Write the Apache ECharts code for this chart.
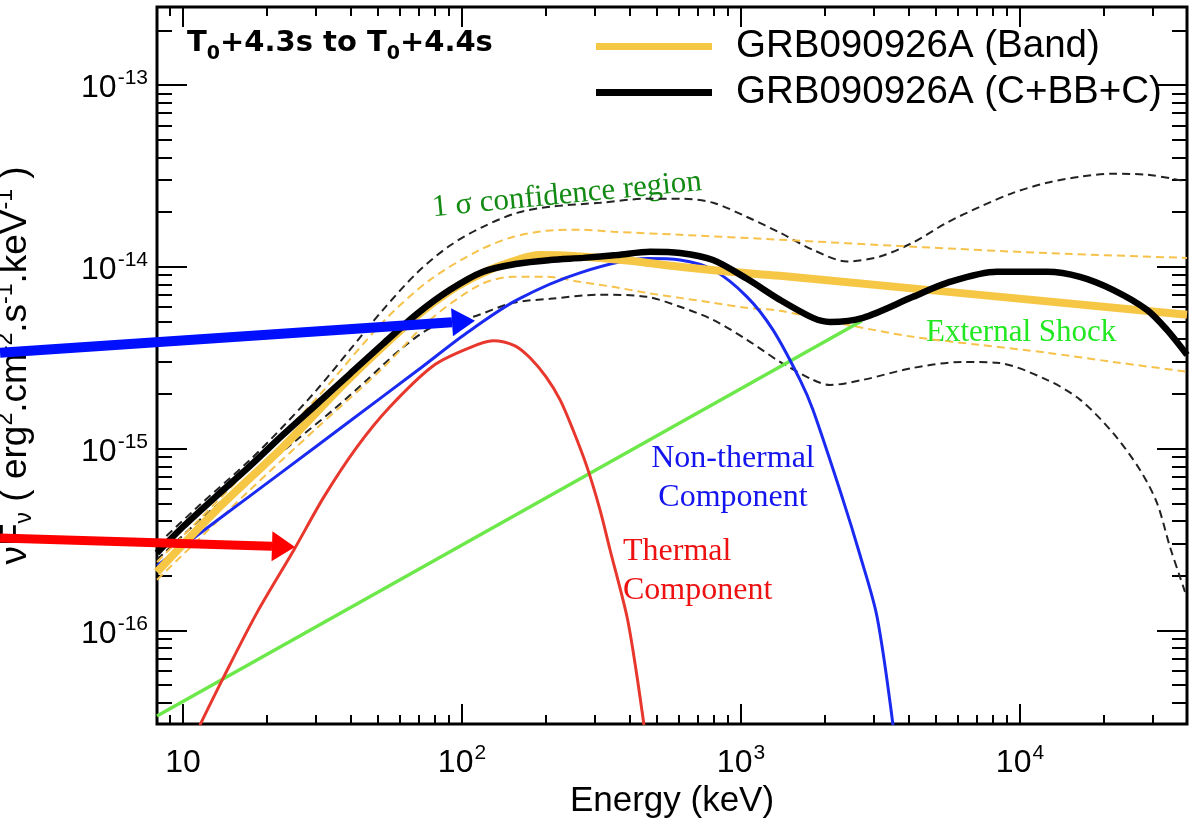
<!DOCTYPE html>
<html>
<head>
<meta charset="utf-8">
<title>GRB090926A spectrum</title>
<script src="https://cdn.jsdelivr.net/npm/echarts@6.0.0/dist/echarts.min.js"></script>
<style>
  html, body { margin: 0; padding: 0; background: #fff; }
  #chart { width: 1202px; height: 822px; }
</style>
</head>
<body>
<div id="chart"></div>
<script>
// [energy keV, nuFnu]
const bandFit = [[8.07, 2.10e-16], [13.2, 4.61e-16], [22.8, 1.02e-15], [39.7, 2.45e-15], [69.0, 5.38e-15], [90.6, 7.38e-15], [118.9, 9.27e-15], [157.5, 1.09e-14], [190.4, 1.16e-14], [264.8, 1.14e-14], [400, 1.08e-14], [604.5, 1.00e-14], [913, 9.39e-15], [1380, 8.92e-15], [39680, 5.45e-15]];
const bandHigh = [[8.07, 2.38e-16], [17.4, 7.84e-16], [30.2, 1.90e-15], [52.1, 4.98e-15], [76.8, 8.48e-15], [116, 1.24e-14], [152.3, 1.46e-14], [201.7, 1.58e-14], [264.8, 1.60e-14], [347.7, 1.56e-14], [604.5, 1.50e-14], [1380, 1.41e-14], [4135, 1.29e-14], [12500, 1.19e-14], [39680, 1.12e-14]];
const bandLow = [[8.07, 1.90e-16], [17.4, 5.94e-16], [30.2, 1.30e-15], [52.1, 2.78e-15], [76.8, 5.11e-15], [116, 7.96e-15], [152.3, 8.81e-15], [201.7, 8.81e-15], [264.8, 8.27e-15], [347.7, 7.76e-15], [460, 7.19e-15], [605, 6.75e-15], [794, 6.34e-15], [1051, 5.95e-15], [1380, 5.73e-15], [2399, 4.80e-15], [4135, 4.12e-15], [7189, 3.72e-15], [12500, 3.37e-15], [21540, 3.00e-15], [39680, 2.65e-15]];

const cbbcFit = [[8.07, 2.67e-16], [10, 3.72e-16], [13.2, 5.50e-16], [17.4, 8.04e-16], [22.8, 1.19e-15], [30.2, 1.76e-15], [39.7, 2.58e-15], [52.1, 3.77e-15], [69.0, 5.51e-15], [90.6, 7.47e-15], [119, 9.39e-15], [158, 1.04e-14], [207, 1.09e-14], [272, 1.12e-14], [359, 1.16e-14], [472, 1.21e-14], [605, 1.19e-14], [794, 1.09e-14], [1051, 8.59e-15], [1380, 6.58e-15], [1812, 5.24e-15], [2084, 4.98e-15], [2737, 5.24e-15], [4135, 6.84e-15], [5474, 8.17e-15], [8273, 9.39e-15], [12500, 9.39e-15], [16410, 8.81e-15], [21540, 7.47e-15], [28520, 5.80e-15], [33640, 4.50e-15], [39680, 3.28e-15]];
const cbbcHigh = [[8.07, 2.96e-16], [11.5, 4.91e-16], [17.4, 8.68e-16], [22.8, 1.32e-15], [30.2, 2.11e-15], [39.7, 3.50e-15], [52.1, 5.80e-15], [69.0, 9.27e-15], [90.6, 1.31e-14], [118.9, 1.66e-14], [157.5, 1.98e-14], [206.8, 2.14e-14], [312.4, 2.25e-14], [460, 2.37e-14], [605, 2.37e-14], [794, 2.25e-14], [1051, 1.88e-14], [1380, 1.54e-14], [1812, 1.24e-14], [2399, 1.07e-14], [3149, 1.14e-14], [4135, 1.36e-14], [5474, 1.75e-14], [7189, 2.14e-14], [9438, 2.55e-14], [12500, 2.90e-14], [16410, 3.13e-14], [21540, 3.25e-14], [28520, 3.21e-14], [35350, 3.05e-14], [39680, 2.94e-14]];
const cbbcLow = [[8.07, 2.45e-16], [11.5, 4.06e-16], [17.4, 6.91e-16], [25.6, 1.12e-15], [34.5, 1.63e-15], [45.7, 2.39e-15], [60.0, 3.50e-15], [78.7, 4.68e-15], [109.5, 5.31e-15], [152.3, 6.34e-15], [206.8, 6.67e-15], [312.4, 7.02e-15], [460, 6.84e-15], [605, 6.03e-15], [794, 5.11e-15], [1051, 3.97e-15], [1380, 3.00e-15], [1812, 2.39e-15], [2084, 2.24e-15], [2737, 2.39e-15], [4135, 2.78e-15], [6247, 3.00e-15], [8273, 2.97e-15], [12500, 2.39e-15], [16410, 1.86e-15], [21540, 1.22e-15], [26930, 7.64e-16], [30970, 5.03e-16], [34480, 2.88e-16], [37450, 1.97e-16], [39030, 1.63e-16]];

const nonThermal = [[8.07, 2.27e-16], [13.2, 4.01e-16], [22.8, 7.50e-16], [39.7, 1.42e-15], [69.0, 2.68e-15], [104.2, 4.34e-15], [157.5, 6.58e-15], [264.8, 9.27e-15], [460, 1.11e-14], [604.5, 1.09e-14], [793.5, 9.63e-15], [1051, 6.84e-15], [1302, 4.50e-15], [1628, 2.39e-15], [1812, 1.63e-15], [2321, 5.23e-16], [2670, 2.60e-16], [3073, 1.19e-16], [3506, 3.02e-17]];
const thermal = [[11.5, 3.02e-17], [14.0, 5.56e-17], [18.4, 1.25e-16], [25.0, 2.78e-16], [32.0, 5.43e-16], [42.0, 1.02e-15], [55.2, 1.70e-15], [78.7, 2.85e-15], [104.2, 3.54e-15], [129.2, 3.92e-15], [154.9, 3.68e-15], [175.3, 3.16e-15], [200.1, 2.48e-15], [224.5, 1.86e-15], [249.9, 1.27e-15], [280.5, 7.94e-16], [312.4, 4.61e-16], [339.3, 2.78e-16], [390.3, 1.19e-16], [420.5, 6.07e-17], [449.1, 3.02e-17]];
const externalShock = [[8.07, 3.39e-17], [2715, 5.05e-15]];

// annotation arrows: [E tail, F tail, E tip, F tip]
const blueArrow = [[2.21, 3.37e-15, 111.3, 5.05e-15]];
const redArrow = [[2.21, 3.23e-16, 25.2, 2.88e-16]];

const xRange = [8.07, 39680];
const yRange = [3.06e-17, 2.685e-13];
const xMajorTicks = [10, 100, 1000, 10000];
const xMinorTicks = [9, 20, 30, 40, 50, 60, 70, 80, 90, 200, 300, 400, 500, 600, 700, 800, 900,
  2000, 3000, 4000, 5000, 6000, 7000, 8000, 9000, 20000, 30000];
const yMajorTicks = [1e-16, 1e-15, 1e-14, 1e-13];
const yMinorTicks = [4e-17, 5e-17, 6e-17, 7e-17, 8e-17, 9e-17,
  2e-16, 3e-16, 4e-16, 5e-16, 6e-16, 7e-16, 8e-16, 9e-16,
  2e-15, 3e-15, 4e-15, 5e-15, 6e-15, 7e-15, 8e-15, 9e-15,
  2e-14, 3e-14, 4e-14, 5e-14, 6e-14, 7e-14, 8e-14, 9e-14, 2e-13];

const SANS = '"Liberation Sans", Arial, Helvetica, sans-serif';
const SERIF = '"Liberation Serif", "Times New Roman", serif';

const chart = echarts.init(document.getElementById('chart'), null, { renderer: 'canvas' });

// "10", "10^2", "10^-13" ...
function powLabel(v) {
  const e = Math.round(Math.log10(v));
  if (e === 1) return '{b|10}';
  return '{b|10}{sup|' + (e < 0 ? '-' + (-e) : e) + '}';
}

const xTickRich = {
  b: { fontSize: 32, fontFamily: SANS, color: '#000', lineHeight: 41 },
  sup: { fontSize: 21, fontFamily: SANS, color: '#000', padding: [0, 0, 20, 1] }
};
const yTickRich = {
  b: { fontSize: 32, fontFamily: SANS, color: '#000', padding: [7, 0, 0, 0] },
  sup: { fontSize: 21, fontFamily: SANS, color: '#000', padding: [0, 0, 13, 1] }
};

function logAxis(range, position, ticks, len, label) {
  return {
    type: 'log',
    logBase: 10,
    min: range[0],
    max: range[1],
    position: position,
    axisLine: { show: false },
    axisTick: { show: true, inside: true, length: len, customValues: ticks, lineStyle: { color: '#000', width: 2 } },
    axisLabel: label || { show: false },
    splitLine: { show: false },
    minorTick: { show: false },
    minorSplitLine: { show: false },
    nameMoveOverlap: false
  };
}

function curve(name, data, color, width, dashed, z) {
  return {
    name: name,
    type: 'line',
    data: data,
    xAxisIndex: 0,
    yAxisIndex: 0,
    showSymbol: false,
    symbol: 'none',
    smooth: 0.3,
    color: color,
    itemStyle: { color: color },
    lineStyle: { color: color, width: width, type: dashed ? [8, 5] : 'solid' },
    emphasis: { disabled: true },
    silent: true,
    clip: true,
    z: z
  };
}

function arrowShape(shaft, headLen, headHalf) {
  return function (params, api) {
    const a = api.coord([api.value(0), api.value(1)]);
    const b = api.coord([api.value(2), api.value(3)]);
    const dx = b[0] - a[0], dy = b[1] - a[1];
    const len = Math.sqrt(dx * dx + dy * dy);
    const ux = dx / len, uy = dy / len;
    const nx = -uy, ny = ux;
    const bx = b[0] - ux * headLen, by = b[1] - uy * headLen;
    const h = shaft / 2;
    const color = api.visual('color');
    return {
      type: 'group',
      children: [
        {
          type: 'polygon',
          shape: { points: [[a[0] + nx * h, a[1] + ny * h], [bx + nx * h, by + ny * h], [bx - nx * h, by - ny * h], [a[0] - nx * h, a[1] - ny * h]] },
          style: { fill: color }
        },
        {
          type: 'polygon',
          shape: { points: [[bx + nx * headHalf, by + ny * headHalf], [b[0], b[1]], [bx - nx * headHalf, by - ny * headHalf]] },
          style: { fill: color }
        }
      ]
    };
  };
}

const xMain = logAxis(xRange, 'bottom', xMajorTicks, 20, {
  customValues: xMajorTicks,
  formatter: powLabel,
  margin: 19,
  rich: xTickRich
});
xMain.name = 'Energy (keV)';
xMain.nameLocation = 'middle';
xMain.nameGap = 60;
xMain.nameTextStyle = { fontSize: 35, fontFamily: SANS, color: '#000' };

const yMain = logAxis(yRange, 'left', yMajorTicks, 30, {
  customValues: yMajorTicks,
  formatter: powLabel,
  margin: 9,
  rich: yTickRich
});
yMain.name = '{n|\u03bdF}{sub|\u03bd}{n| ( erg}{sup|2}{n|.cm}{sup|-2}{n|.s}{sup|-1}{n|.keV}{sup|-1}{n| )}';
yMain.nameLocation = 'middle';
yMain.nameRotate = 90;
yMain.nameGap = 119;
yMain.nameTextStyle = {
  rich: {
    n: { fontSize: 37, fontFamily: SANS, color: '#000', lineHeight: 44 },
    sup: { fontSize: 23, fontFamily: SANS, color: '#000', padding: [0, 0, 21, 0] },
    sub: { fontSize: 23, fontFamily: SANS, color: '#000', padding: [17, 0, 0, 0] }
  }
};

const option = {
  animation: false,
  backgroundColor: '#fff',
  grid: {
    left: 157,
    right: 15,
    top: 7,
    bottom: 98,
    show: true,
    borderColor: '#000',
    borderWidth: 3,
    backgroundColor: 'transparent',
    containLabel: false,
    outerBoundsMode: 'none'
  },
  title: {
    text: '{n|T}{s|0}{n|+4.3s to T}{s|0}{n|+4.4s}',
    left: 187,
    top: 23,
    padding: 0,
    textStyle: {
      rich: {
        n: { fontSize: 29, fontWeight: 'bold', fontFamily: '"DejaVu Sans", sans-serif', color: '#000' },
        s: { fontSize: 19, fontWeight: 'bold', fontFamily: '"DejaVu Sans", sans-serif', color: '#000', padding: [22, 0, 0, 0] }
      }
    }
  },
  legend: {
    orient: 'vertical',
    left: 596,
    top: 27,
    padding: 0,
    itemWidth: 116,
    itemHeight: 7,
    itemGap: 7,
    selectedMode: false,
    icon: 'rect',
    data: ['GRB090926A (Band)', 'GRB090926A (C+BB+C)'],
    textStyle: { fontSize: 38.5, fontFamily: SANS, color: '#000', padding: [0, 0, 0, 19] }
  },
  xAxis: [
    xMain,
    logAxis(xRange, 'bottom', xMinorTicks, 9),
    logAxis(xRange, 'top', xMajorTicks, 20),
    logAxis(xRange, 'top', xMinorTicks, 9)
  ],
  yAxis: [
    yMain,
    logAxis(yRange, 'left', yMinorTicks, 15),
    logAxis(yRange, 'right', yMajorTicks, 30),
    logAxis(yRange, 'right', yMinorTicks, 15)
  ],
  graphic: [
    {
      type: 'text', x: 567, y: 195, rotation: 0.097, silent: true,
      style: { text: '1 \u03c3 confidence region', fontSize: 31, fontFamily: SERIF, fill: '#138a13', align: 'center', verticalAlign: 'middle' }
    },
    {
      type: 'text', x: 926, y: 333, silent: true,
      style: { text: 'External Shock', fontSize: 31, fontFamily: SERIF, fill: '#22e822', align: 'left', verticalAlign: 'middle' }
    },
    {
      type: 'text', x: 733, y: 478, silent: true,
      style: { text: 'Non-thermal\nComponent', fontSize: 32, lineHeight: 39, fontFamily: SERIF, fill: '#1414ee', align: 'center', verticalAlign: 'middle' }
    },
    {
      type: 'text', x: 623, y: 571, silent: true,
      style: { text: 'Thermal\nComponent', fontSize: 32, lineHeight: 39, fontFamily: SERIF, fill: '#ee1111', align: 'left', verticalAlign: 'middle' }
    }
  ],
  series: [
    curve('C+BB+C upper', cbbcHigh, '#222', 2, true, 2),
    curve('C+BB+C lower', cbbcLow, '#222', 2, true, 2),
    curve('Band upper', bandHigh, '#f6c24a', 2, true, 2),
    curve('Band lower', bandLow, '#f6c24a', 2, true, 2),
    curve('External Shock', externalShock, '#6de84a', 3.5, false, 3),
    curve('Thermal', thermal, '#e8372c', 3, false, 3),
    curve('Non-thermal', nonThermal, '#1a2af0', 3, false, 4),
    curve('GRB090926A (Band)', bandFit, '#f6c744', 8, false, 5),
    curve('GRB090926A (C+BB+C)', cbbcFit, '#000', 6.5, false, 6),
    {
      type: 'custom', name: 'blue arrow', data: blueArrow, color: '#0010ff',
      xAxisIndex: 0, yAxisIndex: 0, silent: true, clip: false, z: 10,
      renderItem: arrowShape(10, 23, 14)
    },
    {
      type: 'custom', name: 'red arrow', data: redArrow, color: '#ff0000',
      xAxisIndex: 0, yAxisIndex: 0, silent: true, clip: false, z: 10,
      renderItem: arrowShape(9, 23, 15)
    }
  ]
};

chart.setOption(option);
</script>
</body>
</html>
